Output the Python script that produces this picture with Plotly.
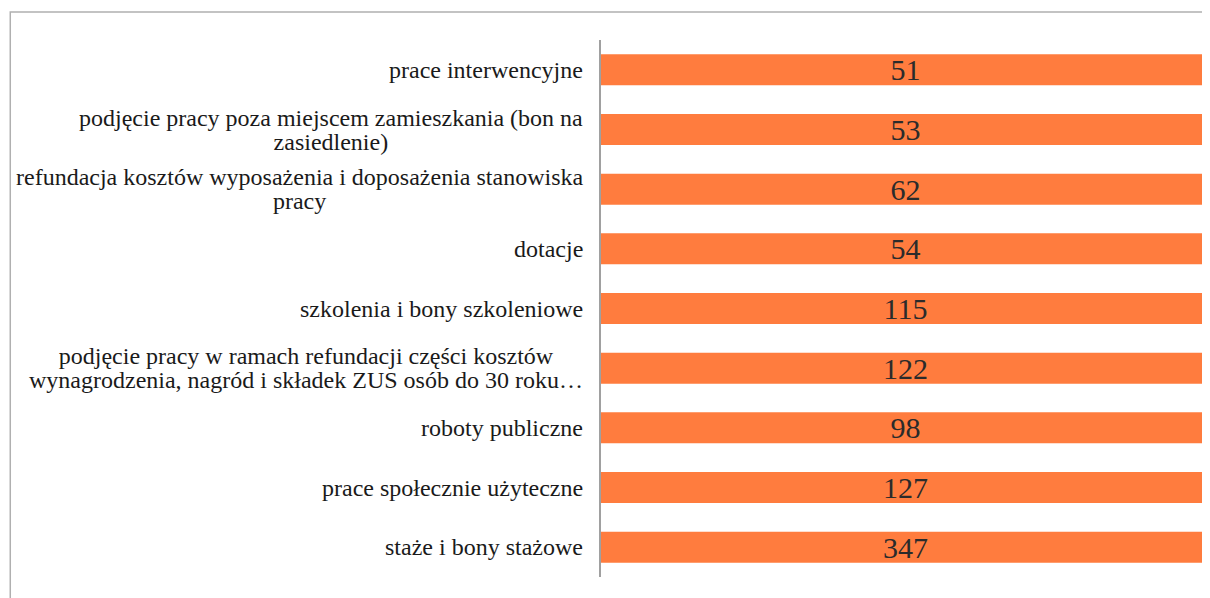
import plotly.graph_objects as go

categories = [
    "prace interwencyjne",
    "podjęcie pracy poza miejscem zamieszkania (bon na<br>zasiedlenie)",
    "refundacja kosztów wyposażenia i doposażenia stanowiska<br>pracy",
    "dotacje",
    "szkolenia i bony szkoleniowe",
    "podjęcie pracy w ramach refundacji części kosztów<br>wynagrodzenia, nagród i składek ZUS osób do 30 roku…",
    "roboty publiczne",
    "prace społecznie użyteczne",
    "staże i bony stażowe",
]
values = [51, 53, 62, 54, 115, 122, 98, 127, 347]
keys = [f"c{i}" for i in range(len(categories))]

fig = go.Figure(go.Bar(
    y=keys, x=values, orientation="h",
    text=values, texttemplate="%{text}",
    textposition="inside", insidetextanchor="middle", textangle=0,
    constraintext="none",
    textfont=dict(family="Liberation Serif", size=30, color="#2b2b2b"),
    marker=dict(color="#FF7C3E", line=dict(width=0)),
    width=0.52, hoverinfo="skip",
))

# etykiety kategorii: mniejsza bazowa czcionka => ciaśniejszy odstęp wierszy,
# a sam tekst powiększony spanem
for k, c in zip(keys, categories):
    txt = "<br>".join(f"<span style='font-size:24px'>{ln}</span>" for ln in c.split("<br>"))
    fig.add_annotation(
        x=0, xref="paper", y=k, yref="y", text=txt, showarrow=False,
        xanchor="right", align="center", xshift=-16,
        font=dict(family="Liberation Serif", size=18.5, color="#1a1a1a"),
    )

fig.add_shape(type="rect", xref="paper", yref="paper",
              x0=-0.97, x1=1.2, y0=-0.2, y1=1.052,
              line=dict(color="#b0b0b0", width=1.5), layer="below")

# body ma margines 8px, więc rysunek 1202x590
fig.update_layout(
    width=1202, height=590,
    margin=dict(l=593, r=0, t=32, b=21),
    barmode="stack", barnorm="fraction",
    plot_bgcolor="white", paper_bgcolor="white",
    showlegend=False,
    xaxis=dict(visible=False, range=[0, 1]),
    yaxis=dict(autorange="reversed", showticklabels=False, showgrid=False,
               showline=True, linecolor="#a0a0a0", linewidth=1.5, ticks=""),
)

fig.write_html("out.html")
